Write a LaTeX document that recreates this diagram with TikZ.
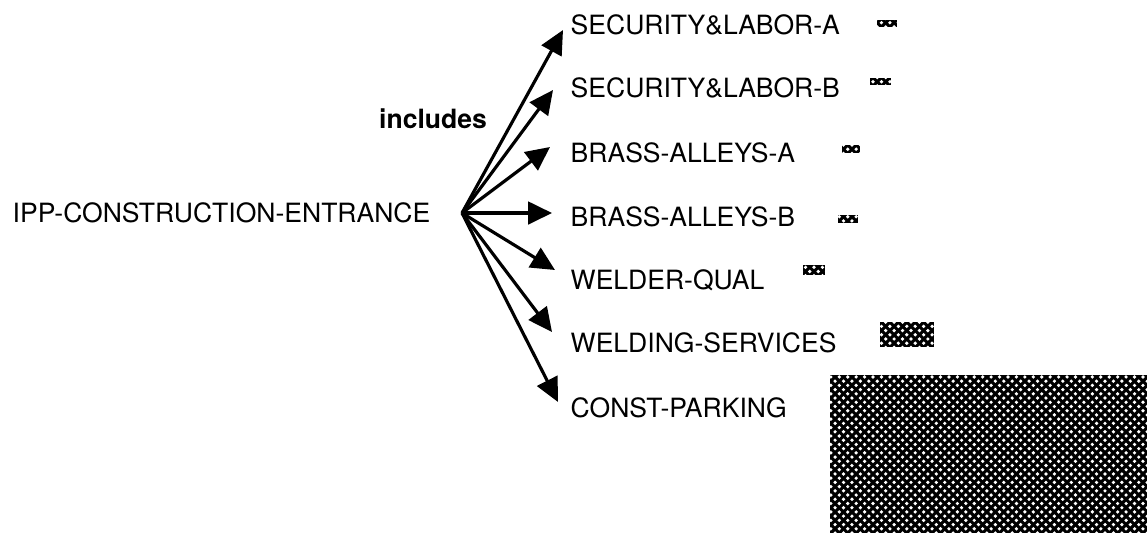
\documentclass[tikz,border=0pt]{standalone}
\usepackage{fontspec}
\setmainfont{TeX Gyre Heros}
\usepackage{tikz}
\usetikzlibrary{arrows.meta,patterns}

\pgfdeclarepatternformonly{meshdots}{\pgfqpoint{-1pt}{-1pt}}{\pgfqpoint{4pt}{4pt}}{\pgfqpoint{2.4pt}{2.4pt}}{%
  \pgfpathcircle{\pgfqpoint{0pt}{0pt}}{0.52pt}%
  \pgfpathcircle{\pgfqpoint{1.2pt}{1.2pt}}{0.52pt}%
  \pgfusepath{fill}}

\begin{document}
\begin{tikzpicture}[
  lbl/.style={font=\fontsize{7.55}{9}\selectfont, inner sep=0pt, anchor=base west},
  rel/.style={font=\fontsize{7.55}{9}\selectfont\bfseries, inner sep=0pt},
  incl/.style={draw=black, line width=0.9pt, -{Triangle[length=6.8pt, width=6.4pt]}},
  hatchbar/.style={fill=black, postaction={pattern=meshdots, pattern color=white}}
]
\useasboundingbox (0,0) rectangle (11.47,5.33);

\node[lbl] (ipp) at (0.12, 3.105) {IPP-CONSTRUCTION-ENTRANCE};
\node[rel] (inc) at (4.33, 4.14) {includes};
\coordinate (hub) at (4.62, 3.20);

\node[lbl] (sla) at (5.70, 4.985) {SECURITY\&LABOR-A};
\node[lbl] (slb) at (5.70, 4.355) {SECURITY\&LABOR-B};
\node[lbl] (baa) at (5.70, 3.705) {BRASS-ALLEYS-A};
\node[lbl] (bab) at (5.70, 3.065) {BRASS-ALLEYS-B};
\node[lbl] (wq) at (5.70, 2.435) {WELDER-QUAL};
\node[lbl] (ws) at (5.70, 1.81) {WELDING-SERVICES};
\node[lbl] (cp) at (5.70, 1.155) {CONST-PARKING};

\coordinate (tsla) at (5.63, 5.03);
\coordinate (tslb) at (5.53, 4.43);
\coordinate (tbaa) at (5.50, 3.86);
\coordinate (tbab) at (5.52, 3.20);
\coordinate (twq) at (5.55, 2.63);
\coordinate (tws) at (5.52, 2.01);
\coordinate (tcp) at (5.58, 1.31);

\draw[incl] (hub) -- (tsla);
\draw[incl] (hub) -- (tslb);
\draw[incl] (hub) -- (tbaa);
\draw[incl] (hub) -- (tbab);
\draw[incl] (hub) -- (twq);
\draw[incl] (hub) -- (tws);
\draw[incl] (hub) -- (tcp);

\path[hatchbar] (8.77, 5.06) rectangle (8.97, 5.13);
\path[hatchbar] (8.70, 4.48) rectangle (8.91, 4.55);
\path[hatchbar] (8.42, 3.80) rectangle (8.60, 3.88);
\path[hatchbar] (8.38, 3.10) rectangle (8.58, 3.18);
\path[hatchbar] (8.03, 2.58) rectangle (8.25, 2.68);
\path[hatchbar] (8.80, 1.86) rectangle (9.34, 2.11);
\path[hatchbar] (8.30, 0) rectangle (11.47, 1.58);

\end{tikzpicture}
\end{document}
